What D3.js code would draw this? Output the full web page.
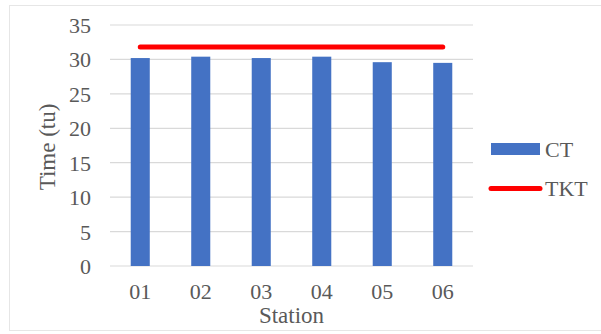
<!DOCTYPE html>
<html>
<head>
<meta charset="utf-8">
<script src="https://cdn.jsdelivr.net/npm/d3@7"></script>
<style>
  html, body { margin: 0; padding: 0; background: #fff; }
  svg { display: block; }
  svg text { font-family: "Liberation Serif", "Times New Roman", serif !important; fill: #595959; }
</style>
</head>
<body>
<script>
// Station cycle times against the takt time
const stations = ["01", "02", "03", "04", "05", "06"];
const ctValues = [30.2, 30.4, 30.2, 30.4, 29.6, 29.5];
const tktValues = [31.8, 31.8, 31.8, 31.8, 31.8, 31.8];
const yTicks = [0, 5, 10, 15, 20, 25, 30, 35];
const seriesNames = ["CT", "TKT"];

const W = 601, H = 334;
const plot = { left: 110, right: 473, top: 25, bottom: 266 };
const FS = 22;

const svg = d3.select("body").append("svg").attr("width", W).attr("height", H);

// chart frame
svg.append("rect")
  .attr("x", 9.5).attr("y", 5.5)
  .attr("width", 620).attr("height", 325)
  .attr("fill", "#fff").attr("stroke", "#e6e6e6").attr("stroke-width", 1);

const x = d3.scaleBand().domain(stations).range([plot.left, plot.right]);
const y = d3.scaleLinear().domain([0, 35]).range([plot.bottom, plot.top]);

// horizontal gridlines
svg.append("g").selectAll("line").data(yTicks).join("line")
  .attr("x1", plot.left).attr("x2", plot.right)
  .attr("y1", d => y(d)).attr("y2", d => y(d))
  .attr("stroke", "#d9d9d9").attr("stroke-width", 1.2);

// y axis labels
const yAxis = d3.axisLeft(y).tickValues(yTicks).tickSize(0).tickPadding(0);
const gy = svg.append("g").attr("transform", `translate(${plot.left - 19},0)`).call(yAxis);
gy.attr("font-family", null).attr("font-size", null);
gy.select(".domain").remove();
gy.selectAll("text")
  .style("font-size", FS + "px")
  .attr("dy", "0.34em");

// x axis labels
const xAxis = d3.axisBottom(x).tickSize(0).tickPadding(0);
const gx = svg.append("g").attr("transform", `translate(0,${plot.bottom + 17})`).call(xAxis);
gx.attr("font-family", null).attr("font-size", null);
gx.select(".domain").remove();
gx.selectAll("text")
  .style("font-size", FS + "px")
  .attr("dy", "0.71em");

// CT bars
const barW = x.bandwidth() * 0.315;
svg.append("g").selectAll("rect").data(ctValues).join("rect")
  .attr("x", (d, i) => x(stations[i]) + x.bandwidth() / 2 - barW / 2)
  .attr("y", d => y(d))
  .attr("width", barW)
  .attr("height", d => y(0) - y(d))
  .attr("fill", "#4472C4");

// TKT line
const line = d3.line()
  .x((d, i) => x(stations[i]) + x.bandwidth() / 2)
  .y(d => y(d));
svg.append("path").datum(tktValues)
  .attr("d", line)
  .attr("fill", "none")
  .attr("stroke", "#FF0000")
  .attr("stroke-width", 5)
  .attr("stroke-linecap", "round");

// axis titles
svg.append("text")
  .attr("x", (plot.left + plot.right) / 2).attr("y", 323)
  .attr("text-anchor", "middle").style("font-size", "23px")
  .text("Station");

svg.append("text")
  .attr("transform", `translate(55,147) rotate(-90)`)
  .attr("text-anchor", "middle").style("font-size", "23px")
  .text("Time (tu)");

// legend
const lg = svg.append("g");
lg.append("rect")
  .attr("x", 491).attr("y", 143).attr("width", 49).attr("height", 12)
  .attr("fill", "#4472C4");
lg.append("text").attr("x", 545).attr("y", 157).style("font-size", FS + "px").text(seriesNames[0]);
lg.append("line")
  .attr("x1", 491).attr("x2", 540).attr("y1", 188.5).attr("y2", 188.5)
  .attr("stroke", "#FF0000").attr("stroke-width", 5).attr("stroke-linecap", "round");
lg.append("text").attr("x", 545).attr("y", 196).style("font-size", FS + "px").text(seriesNames[1]);
</script>
</body>
</html>
